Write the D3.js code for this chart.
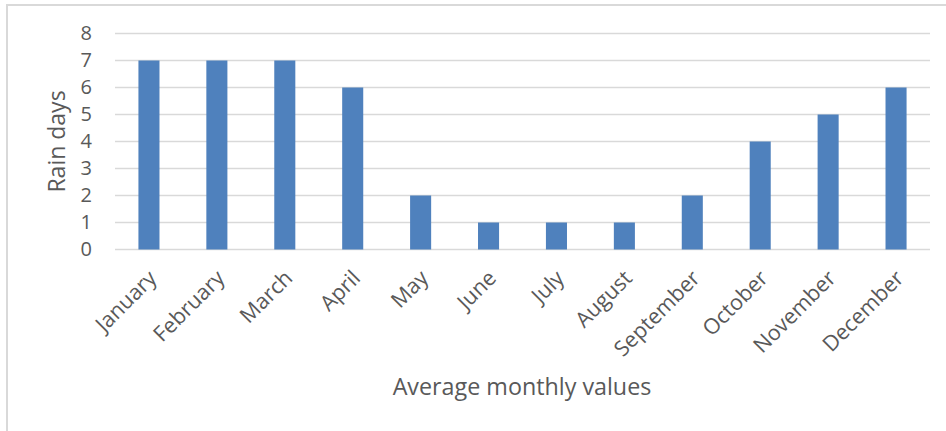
<!DOCTYPE html>
<html>
<head>
<meta charset="utf-8">
<script src="https://cdn.jsdelivr.net/npm/d3@7/dist/d3.min.js"></script>
<style>
  html, body { margin: 0; padding: 0; background: #fff; }
  svg { display: block; }
  text { font-family: "Open Sans", "Noto Sans", sans-serif; fill: #595959; }
</style>
</head>
<body>
<svg id="chart" width="946" height="431"></svg>
<script>
// Average number of rain days per month
const months = ["January", "February", "March", "April", "May", "June",
                "July", "August", "September", "October", "November", "December"];
const rainDays = [7, 7, 7, 6, 2, 1, 1, 1, 2, 4, 5, 6];
const yTicks = [0, 1, 2, 3, 4, 5, 6, 7, 8];
const yTitle = "Rain days";
const xTitle = "Average monthly values";

const svg = d3.select("#chart");
const W = 946, H = 431;
const plot = { left: 115, right: 930, top: 33.5, bottom: 249.5 };

// chart frame
svg.append("rect")
  .attr("x", 7).attr("y", 5)
  .attr("width", W + 10).attr("height", H + 10)
  .attr("fill", "none").attr("stroke", "#d9d9d9").attr("stroke-width", 2);

const x = d3.scaleBand()
  .domain(months)
  .range([plot.left, plot.right])
  .paddingInner(0.69).paddingOuter(0.345);

const y = d3.scaleLinear()
  .domain([0, 8])
  .range([plot.bottom, plot.top]);

// horizontal gridlines
svg.append("g")
  .selectAll("line")
  .data(yTicks)
  .join("line")
  .attr("x1", plot.left).attr("x2", plot.right)
  .attr("y1", d => y(d)).attr("y2", d => y(d))
  .attr("stroke", "#d9d9d9").attr("stroke-width", 1.5);

// bars
svg.append("g")
  .selectAll("rect")
  .data(months.map((m, i) => ({ m, v: rainDays[i] })))
  .join("rect")
  .attr("x", d => x(d.m))
  .attr("width", x.bandwidth())
  .attr("y", d => y(d.v))
  .attr("height", d => y(0) - y(d.v))
  .attr("fill", "#4f81bd");

// y axis labels
const yAxis = svg.append("g")
  .attr("transform", `translate(${plot.left - 16},0)`)
  .call(d3.axisLeft(y).tickValues(yTicks).tickSize(0).tickPadding(7));
yAxis.select(".domain").remove();
yAxis.selectAll("text")
  .attr("font-size", 20).attr("fill", "#595959")
  .style("font-family", '"Open Sans", sans-serif');

// x axis labels, rotated
const xAxis = svg.append("g")
  .attr("transform", `translate(0,${plot.bottom})`)
  .call(d3.axisBottom(x).tickSize(0).tickPadding(0));
xAxis.select(".domain").remove();
xAxis.selectAll("text")
  .attr("font-size", 21.5).attr("fill", "#595959")
  .style("font-family", '"Open Sans", sans-serif')
  .attr("text-anchor", "end")
  .attr("dy", null)
  .attr("transform", "translate(9,30) rotate(-45)");

// axis titles
svg.append("text")
  .attr("transform", `translate(65,${(plot.top + plot.bottom) / 2}) rotate(-90)`)
  .attr("text-anchor", "middle")
  .attr("font-size", 23)
  .text(yTitle);

svg.append("text")
  .attr("x", 522).attr("y", 395)
  .attr("text-anchor", "middle")
  .attr("font-size", 23.3)
  .text(xTitle);
</script>
</body>
</html>
